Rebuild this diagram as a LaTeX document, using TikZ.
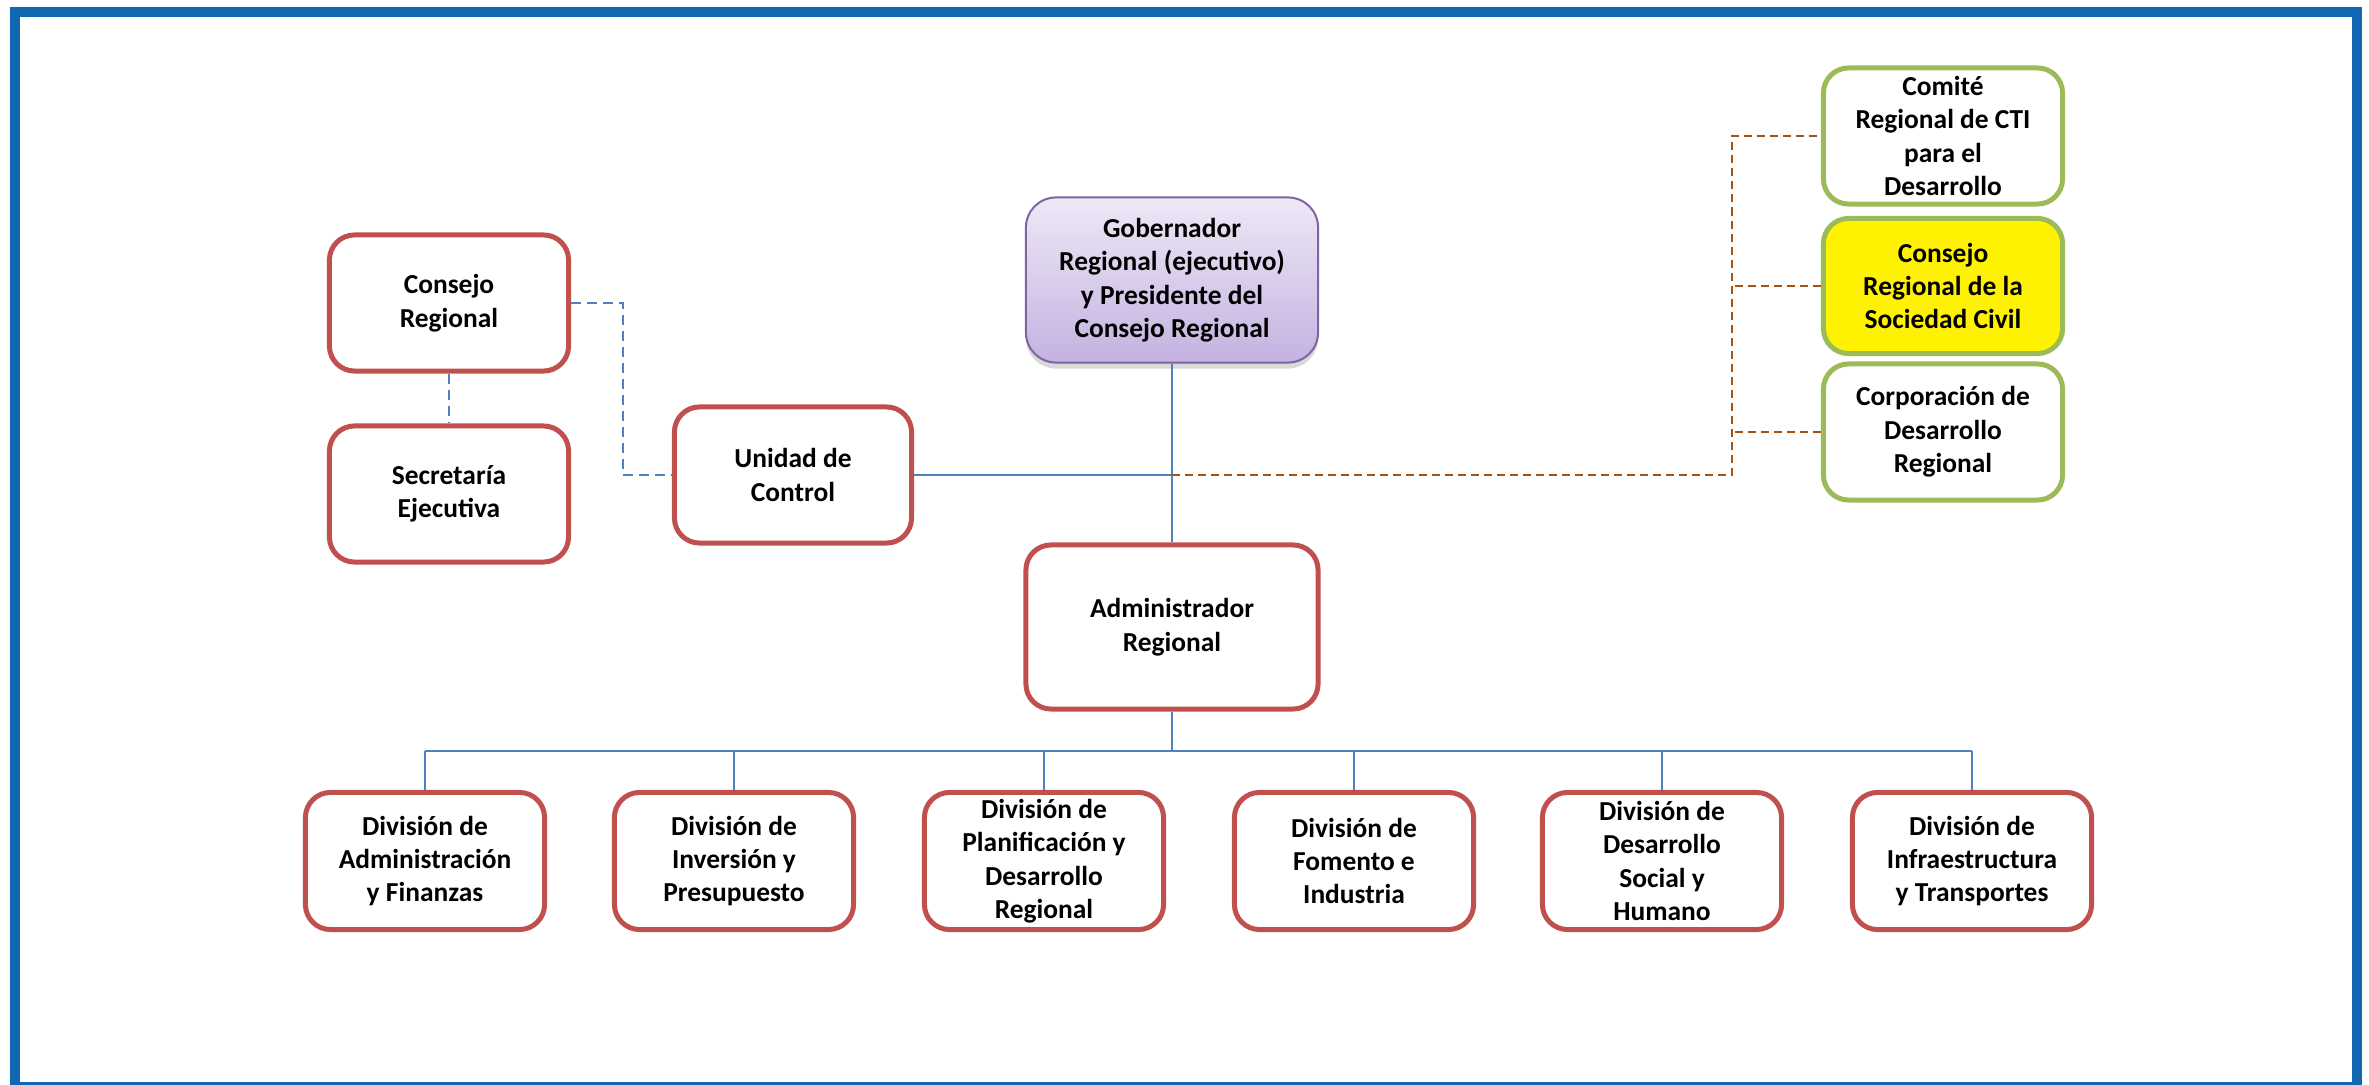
\documentclass[tikz,border=0pt]{standalone}
\usepackage{fontspec}
\setmainfont{Carlito}
\usetikzlibrary{shadows}
\definecolor{unitred}{RGB}{192,80,77}
\definecolor{unitgreen}{RGB}{155,187,89}
\definecolor{linkblue}{RGB}{79,129,189}
\definecolor{linkbrown}{RGB}{163,84,20}
\definecolor{frameblue}{RGB}{17,103,178}
\definecolor{govtop}{RGB}{238,232,246}
\definecolor{govbottom}{RGB}{196,178,225}
\definecolor{govline}{RGB}{128,100,162}
\begin{document}
\begin{tikzpicture}[x=0.01cm, y=-0.01cm,
    unit/.style={rounded corners=0.25cm, align=center, inner sep=0pt,
      minimum width=2.39cm, minimum height=1.36cm,
      font=\fontsize{7.8}{9.5}\selectfont\bfseries},
    redunit/.style={unit, draw=unitred, line width=0.05cm, fill=white},
    greenunit/.style={unit, draw=unitgreen, line width=0.05cm, fill=white},
    govunit/.style={unit, draw=govline, line width=0.02cm, minimum width=2.92cm,
      minimum height=1.65cm, rounded corners=0.3cm, top color=govtop, bottom color=govbottom,
      drop shadow={opacity=0.3, shadow xshift=0pt, shadow yshift=-0.06cm}},
    bluelink/.style={linkblue, line width=0.025cm},
    bluedash/.style={linkblue, line width=0.025cm, dash pattern=on 0.1cm off 0.06cm},
    browndash/.style={linkbrown, line width=0.025cm, dash pattern=on 0.08cm off 0.05cm}]
  \useasboundingbox (0,0) rectangle (2369,1085);
  \draw[frameblue, line width=0.1cm] (15,12) rectangle (2357,1087);

  \node[govunit] (gob) at (1172,280) {Gobernador\\Regional (ejecutivo)\\y Presidente del\\Consejo Regional};
  \node[redunit, minimum width=2.92cm, minimum height=1.64cm] (admin) at (1172,627) {Administrador\\Regional};
  \node[redunit] (consejo) at (449,303) {Consejo\\Regional};
  \node[redunit] (secre) at (449,494) {Secretaría\\Ejecutiva};
  \node[redunit, minimum width=2.37cm] (unidad) at (793,475) {Unidad de\\Control};
  \node[greenunit] (comite) at (1943,136) {Comité\\Regional de CTI\\para el\\Desarrollo};
  \node[greenunit, fill=yellow, minimum height=1.35cm] (cosoc) at (1943,286) {Consejo\\Regional de la\\Sociedad Civil};
  \node[greenunit] (corpo) at (1943,432) {Corporación de\\Desarrollo\\Regional};

  \foreach \i/\x/\t in {1/425/{División de\\Administración\\y Finanzas},
      2/734/{División de\\Inversión y\\Presupuesto},
      3/1044/{División de\\Planificación y\\Desarrollo\\Regional},
      4/1354/{División de\\Fomento e\\Industria},
      5/1662/{División de\\Desarrollo\\Social y\\Humano},
      6/1972/{División de\\Infraestructura\\y Transportes}}
    \node[redunit, minimum height=1.37cm] (div\i) at (\x,861) {\t};

  \coordinate (bus) at (1172,751);
  \coordinate (junc) at (1172,475);
  \coordinate (rail) at (1732,475);

  \draw[bluelink] (gob) -- (admin);
  \draw[bluelink] (unidad) -- (junc);
  \draw[bluelink] (admin) -- (bus);
  \draw[bluelink] (div1.north |- bus) -- (div6.north |- bus);
  \foreach \i in {1,...,6}
    \draw[bluelink] (div\i.north |- bus) -- (div\i.north);

  \draw[bluedash] (consejo) -- (secre);
  \draw[bluedash] (consejo.east) -- ++(52,0) |- (unidad.west);

  \draw[browndash] (junc) -- (rail) |- (comite.west);
  \draw[browndash] (cosoc.west) -- (cosoc.west -| rail);
  \draw[browndash] (corpo.west) -- (corpo.west -| rail);
\end{tikzpicture}
\end{document}
